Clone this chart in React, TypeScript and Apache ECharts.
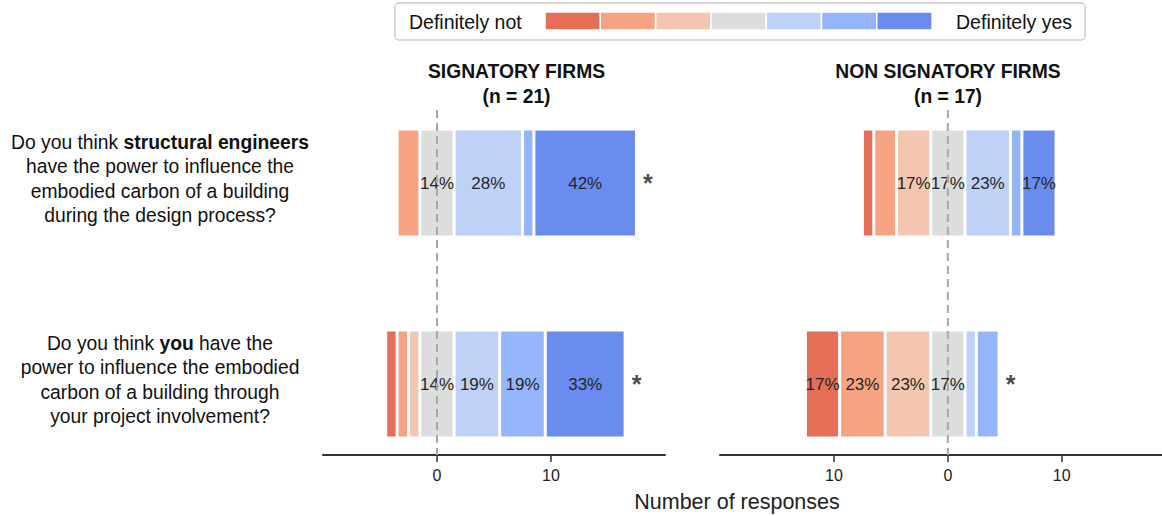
import React, { useEffect, useRef } from 'react';
import * as echarts from 'echarts';

// Seven-point response scale, from "Definitely not" to "Definitely yes"
const levelNames = ['Definitely not', 'Probably not', 'Possibly not', 'Unsure', 'Possibly yes', 'Probably yes', 'Definitely yes'];
const palette = ['#e46e56', '#f5a383', '#f4c6b0', '#dcdddd', '#bed1f6', '#95b5fb', '#6a8cef'];

// Question labels (rich text: n = normal, b = bold)
const questions = [
  '{n|Do you think }{b|structural engineers}\n{n|have the power to influence the}\n{n|embodied carbon of a building}\n{n|during the design process?}',
  '{n|Do you think }{b|you}{n| have the}\n{n|power to influence the embodied}\n{n|carbon of a building through}\n{n|your project involvement?}',
];

// Response counts per question, one entry per scale level
const signatoryCounts = [
  [0, 2, 0, 3, 6, 1, 9],
  [1, 1, 1, 3, 4, 4, 7],
];
const nonSignatoryCounts = [
  [1, 2, 3, 3, 4, 1, 3],
  [3, 4, 4, 3, 1, 2, 0],
];
const signatoryN = 21;
const nonSignatoryN = 17;

// Significance markers per question
const signatoryStars = [true, true];
const nonSignatoryStars = [false, true];

const panelTitles = ['SIGNATORY FIRMS', 'NON SIGNATORY FIRMS'];
const xTickValues = [
  [0, 10],
  [-10, 0, 10],
];

const FONT = '"Liberation Sans", Arial, Helvetica, sans-serif';

function panelSeries(rows: number[][], n: number, stars: boolean[], idx: number) {
  const stack = 'panel' + idx;
  const series: any[] = [];
  // invisible lead-in so the neutral segment straddles zero
  series.push({
    type: 'bar',
    name: 'offset' + idx,
    stack,
    stackStrategy: 'all',
    xAxisIndex: idx,
    yAxisIndex: idx,
    barWidth: 108,
    silent: true,
    itemStyle: { color: 'rgba(0,0,0,0)' },
    emphasis: { disabled: true },
    data: rows.map((r) => -(r[0] + r[1] + r[2] + r[3] / 2)),
  });
  levelNames.forEach((name, k) => {
    series.push({
      type: 'bar',
      name,
      stack,
      stackStrategy: 'all',
      xAxisIndex: idx,
      yAxisIndex: idx,
      barWidth: 108,
      itemStyle: { color: palette[k], borderColor: '#ffffff', borderWidth: 1.5 },
      emphasis: { disabled: true },
      label: {
        show: true,
        position: 'inside',
        fontFamily: FONT,
        fontSize: 17,
        color: '#262626',
        formatter: (p: any) => {
          const share = p.value / n;
          return share >= 0.13 ? Math.floor(share * 100) + '%' : '';
        },
      },
      data: rows.map((r) => r[k]),
    });
  });
  const starData: any[] = [];
  rows.forEach((r, i) => {
    if (stars[i]) starData.push([r[3] / 2 + r[4] + r[5] + r[6] + 1, i]);
  });
  series.push({
    type: 'scatter',
    xAxisIndex: idx,
    yAxisIndex: idx,
    symbolSize: 1,
    silent: true,
    itemStyle: { color: 'rgba(0,0,0,0)' },
    label: {
      show: true,
      position: 'inside',
      formatter: '*',
      fontFamily: FONT,
      fontWeight: 'bold',
      fontSize: 25,
      color: '#1a1a1a',
    },
    data: starData,
  });
  return series;
}

function xAxis(idx: number, min: number, max: number) {
  return {
    type: 'value',
    gridIndex: idx,
    min,
    max,
    interval: 10,
    offset: -29.5,
    splitLine: { show: false },
    axisLine: { show: true, onZero: false, lineStyle: { color: '#333333', width: 2 } },
    axisTick: {
      show: true,
      customValues: xTickValues[idx],
      length: 7,
      lineStyle: { color: '#333333', width: 1.5 },
    },
    axisLabel: {
      customValues: xTickValues[idx],
      formatter: (v: number) => String(Math.abs(v)),
      fontFamily: FONT,
      fontSize: 16,
      color: '#222222',
      margin: 12,
    },
  };
}

function yAxis(idx: number) {
  return {
    type: 'category',
    gridIndex: idx,
    inverse: true,
    data: questions,
    axisLine: { show: false },
    axisTick: { show: false },
    axisLabel:
      idx === 0
        ? {
            show: true,
            align: 'center',
            margin: 163,
            lineHeight: 24.5,
            padding: [0, 0, 8, 0],
            rich: {
              n: { fontFamily: FONT, fontSize: 19.3, color: '#111111', align: 'center', lineHeight: 24.5 },
              b: { fontFamily: FONT, fontSize: 19.3, fontWeight: 'bold', color: '#111111', align: 'center', lineHeight: 24.5 },
            },
          }
        : { show: false },
  };
}

export default function App() {
  const ref = useRef<HTMLDivElement>(null);

  useEffect(() => {
    if (!ref.current) return;
    const chart = echarts.init(ref.current, null, { renderer: 'svg' });
    chart.setOption({
      animation: false,
      backgroundColor: '#ffffff',
      grid: [
        { left: 323, width: 342, top: 82.5, height: 402 },
        { left: 720, right: 0, top: 82.5, height: 402 },
      ],
      xAxis: [xAxis(0, -10, 20), xAxis(1, -20, 18.8)],
      yAxis: [yAxis(0), yAxis(1)],
      series: [
        ...panelSeries(signatoryCounts, signatoryN, signatoryStars, 0),
        ...panelSeries(nonSignatoryCounts, nonSignatoryN, nonSignatoryStars, 1),
      ],
    });

    // zero reference lines, placed through the axes' own scales
    const zeroLines = [0, 1].map((i) => {
      const x = chart.convertToPixel({ xAxisIndex: i }, 0) as number;
      return {
        type: 'line',
        z: 10,
        silent: true,
        shape: { x1: x, y1: 110, x2: x, y2: 455 },
        style: { stroke: '#a8a8a8', lineWidth: 2, lineDash: [8, 5] },
      };
    });

    const titleCenters = [516.5, 948];
    const counts = [signatoryN, nonSignatoryN];
    const titles: any[] = [];
    titleCenters.forEach((cx, i) => {
      titles.push({
        type: 'text',
        x: cx,
        y: 71,
        style: { text: panelTitles[i], font: `bold 19.3px ${FONT}`, fill: '#111111', align: 'center', verticalAlign: 'middle' },
      });
      titles.push({
        type: 'text',
        x: cx,
        y: 96,
        style: { text: `(n = ${counts[i]})`, font: `bold 19.3px ${FONT}`, fill: '#111111', align: 'center', verticalAlign: 'middle' },
      });
    });

    // colour-scale key
    const swatches = palette.map((c, k) => ({
      type: 'rect',
      shape: { x: 545 + k * 55.3, y: 12, width: 55.3, height: 18 },
      style: { fill: c, stroke: '#ffffff', lineWidth: 1.5 },
    }));
    const key = [
      {
        type: 'rect',
        shape: { x: 395, y: 3, width: 690, height: 37, r: 4 },
        style: { fill: '#ffffff', stroke: '#cccccc', lineWidth: 1.5 },
      },
      ...swatches,
      {
        type: 'text',
        x: 409,
        y: 21.5,
        style: { text: levelNames[0], font: `19.5px ${FONT}`, fill: '#111111', align: 'left', verticalAlign: 'middle' },
      },
      {
        type: 'text',
        x: 1072,
        y: 21.5,
        style: { text: levelNames[6], font: `19.5px ${FONT}`, fill: '#111111', align: 'right', verticalAlign: 'middle' },
      },
    ];

    chart.setOption({
      graphic: [
        ...zeroLines,
        ...titles,
        ...key,
        {
          type: 'text',
          x: 737,
          y: 502,
          style: { text: 'Number of responses', font: `21.5px ${FONT}`, fill: '#222222', align: 'center', verticalAlign: 'middle' },
        },
      ],
    });

    return () => chart.dispose();
  }, []);

  return <div ref={ref} style={{ position: 'fixed', left: 0, top: 0, width: 1162, height: 516 }} />;
}
